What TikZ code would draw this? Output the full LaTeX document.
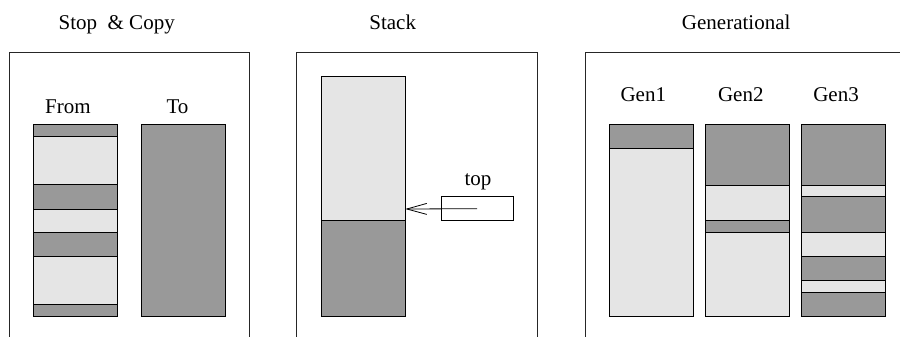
\documentclass[tikz,border=0pt]{standalone}
\usepackage{fontspec}
\newfontfamily\tmsfont{Liberation Serif}
\usetikzlibrary{arrows.meta}
\definecolor{dk}{gray}{0.6}
\definecolor{lt}{gray}{0.9}
\begin{document}
\begin{tikzpicture}[x=1pt,y=-1pt,
  band/.style={draw=black, line width=0.8pt},
  lbl/.style={font=\tmsfont\fontsize{21}{25}\selectfont, anchor=base, inner sep=0pt},
  frame/.style={draw=black!85, line width=0.9pt}]
\useasboundingbox (0,0) rectangle (900,337);
\clip (0,0) rectangle (900,337);
% titles
\node[lbl] (t1) at (116.7,29.3) {Stop\ \ \& Copy};
\node[lbl] (t2) at (392.7,29.3) {Stack};
\node[lbl] (t3) at (736.2,29.3) {Generational};
% frames
\draw[frame] (9,340) -- (9,52.3) -- (249,52.3) -- (249,340);
\draw[frame] (296.7,340) -- (296.7,52.3) -- (537.7,52.3) -- (537.7,340);
\draw[frame] (585,340) -- (585,52.3) -- (905,52.3);
% Stop & Copy
\node[lbl] (from) at (68,113.3) {From};
\node[lbl] (to) at (177.5,113.3) {To};
\foreach \ya/\yb/\c in {124.3/136.7/dk,136.7/184.3/lt,184.3/209/dk,209/232.3/lt,232.3/256.7/dk,256.7/304.3/lt,304.3/316.5/dk}
  \filldraw[band, fill=\c] (33,\ya) rectangle (117.3,\yb);
\filldraw[band, fill=dk] (141.3,124.3) rectangle (225.3,316.5);
% Stack
\filldraw[band, fill=lt] (321,76) rectangle (405.3,220.7);
\filldraw[band, fill=dk] (321,220.7) rectangle (405.3,316.7);
\coordinate (stacktip) at (405.3,209);
\node[draw=black, line width=0.8pt, minimum width=72.3pt, minimum height=24pt, inner sep=0pt] (topbox) at (477.2,208.7) {};
\node[lbl] (toplbl) at (478,185) {top};
\draw[line width=0.8pt, -{Straight Barb[length=20pt, width=11pt]}] (topbox.center) -- (stacktip);
% Generational
\node[lbl] (g1) at (643.3,101.7) {Gen1};
\node[lbl] (g2) at (740.8,101.7) {Gen2};
\node[lbl] (g3) at (836,101.7) {Gen3};
\foreach \ya/\yb/\c in {124.3/148.3/dk,148.3/316.7/lt}
  \filldraw[band, fill=\c] (609,\ya) rectangle (693.3,\yb);
\foreach \ya/\yb/\c in {124.3/185/dk,185/220.7/lt,220.7/232.3/dk,232.3/316.7/lt}
  \filldraw[band, fill=\c] (705,\ya) rectangle (789,\yb);
\foreach \ya/\yb/\c in {124.3/185/dk,185/196.7/lt,196.7/232.3/dk,232.3/256.7/lt,256.7/280.3/dk,280.3/292.3/lt,292.3/316.7/dk}
  \filldraw[band, fill=\c] (801,\ya) rectangle (885.3,\yb);
\end{tikzpicture}
\end{document}
